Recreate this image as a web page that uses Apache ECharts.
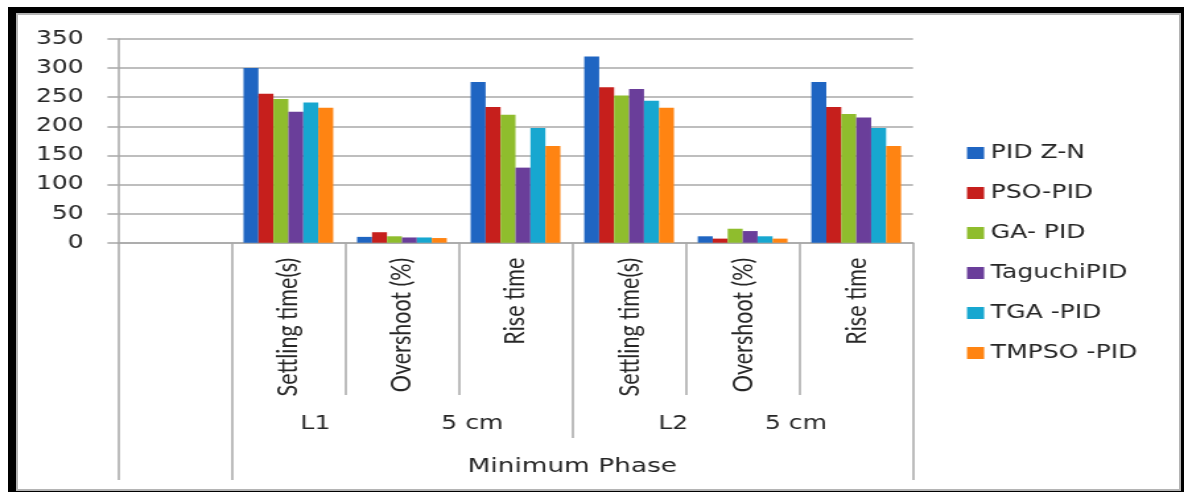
<!DOCTYPE html>
<html>
<head>
<meta charset="utf-8">
<script src="https://cdn.jsdelivr.net/npm/echarts@6/dist/echarts.min.js"></script>
<style>
  html, body { margin: 0; padding: 0; background: #fff; width: 1184px; height: 492px; overflow: hidden; }
  #frame { position: absolute; left: 8px; top: 7px; width: 1176px; height: 490px; background: #000; }
  #card { position: absolute; left: 16px; top: 13px; width: 1165px; height: 478px; box-sizing: border-box; background: #fff; border: 2px solid #b4b4b4; }
  #chart { position: absolute; left: 0; top: 0; width: 897px; height: 492px; transform: scaleX(1.32); transform-origin: 0 0; }
</style>
</head>
<body>
<div id="frame"></div>
<div id="card"></div>
<div id="chart"></div>
<script>
// Category levels (the first column is an empty slot)
const categories = ['', 'Settling time(s)', 'Overshoot (%)', 'Rise time', 'Settling time(s)', 'Overshoot (%)', 'Rise time'];
const groupL1 = ['L1', '5 cm'];
const groupL2 = ['L2', '5 cm'];
const phaseLabel = 'Minimum Phase';

// Series names and values
const seriesNames = ['PID Z-N', 'PSO-PID', 'GA- PID', 'TaguchiPID', 'TGA -PID', 'TMPSO -PID'];
const pidZN      = [null, 300, 10, 276, 320, 11, 276];
const psoPid     = [null, 256, 18, 233, 267,  7, 233];
const gaPid      = [null, 247, 11, 220, 253, 24, 221];
const taguchiPid = [null, 225,  9, 129, 264, 20, 215];
const tgaPid     = [null, 241,  9, 197, 244, 11, 197];
const tmpsoPid   = [null, 232,  8, 166, 232,  7, 166];

// Y-axis scale
const yMin = 0, yMax = 350, yStep = 50;

const colors = ['#1f65c2', '#c61f1c', '#8fbd2d', '#6a3e9a', '#17a7d0', '#ff8412'];

// Layout (chart is drawn in a narrower box and widened by S)
const S = 1.32;
const W = 897;
const plotLeft = 118 / S, plotRight = 913 / S;
const plotTop = 39, plotBottom = 242.7;
const bandW = (plotRight - plotLeft) / categories.length;
const grey = '#a8a8a8';
const txt = '#262626';

const chart = echarts.init(document.getElementById('chart'), null, { renderer: 'canvas', width: W, height: 492 });

const seriesData = [pidZN, psoPid, gaPid, taguchiPid, tgaPid, tmpsoPid];

const baseX = {
  type: 'category',
  data: categories,
  position: 'bottom',
  gridIndex: 0,
  axisLine: { show: false },
  splitLine: { show: false }
};

chart.setOption({
  animation: false,
  color: colors,
  grid: {
    left: plotLeft,
    right: W - plotRight,
    top: plotTop,
    bottom: 492 - plotBottom,
    containLabel: false
  },
  legend: {
    orient: 'vertical',
    left: 967 / S,
    top: 143,
    padding: 0,
    itemGap: 20,
    itemWidth: 13,
    itemHeight: 12,
    icon: 'rect',
    data: seriesNames,
    textStyle: { fontFamily: 'DejaVu Sans', fontSize: 19, color: txt, lineHeight: 20 }
  },
  xAxis: [
    Object.assign({}, baseX, {
      axisLine: { show: true, lineStyle: { color: grey, width: 1.5 } },
      axisTick: { show: true, interval: 0, length: 395 - plotBottom, lineStyle: { color: grey, width: 1.5 } },
      axisLabel: {
        interval: 0, rotate: 90, margin: 15,
        fontFamily: 'Lato', fontSize: 21.5, color: txt
      }
    }),
    Object.assign({}, baseX, {
      axisTick: {
        show: true, length: 438 - plotBottom,
        interval: (i) => i === 0 || i === 1 || i === 4,
        lineStyle: { color: grey, width: 1.5 }
      },
      axisLabel: {
        interval: (i) => i === 2 || i === 5,
        margin: 424 - plotBottom,
        verticalAlign: 'middle',
        formatter: (v, i) => i === 2 ? '{a|' + groupL1[0] + '}{g1| }{a|' + groupL1[1] + '}'
                          : i === 5 ? '{a|' + groupL2[0] + '}{g2| }{a|' + groupL2[1] + '}' : '',
        rich: {
          a: { fontFamily: 'DejaVu Sans', fontSize: 19, color: txt },
          g1: { width: 84 },
          g2: { width: 58 }
        }
      }
    }),
    Object.assign({}, baseX, {
      axisTick: {
        show: true, length: 480 - plotBottom,
        interval: (i) => i === 0 || i === 1,
        lineStyle: { color: grey, width: 1.5 }
      },
      axisLabel: {
        interval: (i) => i === 3,
        margin: 467 - plotBottom,
        verticalAlign: 'middle',
        padding: [0, 0, 0, bandW],
        formatter: (v, i) => i === 3 ? phaseLabel : '',
        fontFamily: 'DejaVu Sans', fontSize: 20, color: txt
      }
    })
  ],
  yAxis: {
    type: 'value',
    min: yMin, max: yMax, interval: yStep,
    axisLine: { show: true, lineStyle: { color: grey, width: 1.5 } },
    axisTick: { show: true, length: 8, lineStyle: { color: grey, width: 1.5 } },
    splitLine: { show: true, lineStyle: { color: grey, width: 1.5 } },
    axisLabel: { margin: 26, fontFamily: 'DejaVu Sans', fontSize: 19, color: txt }
  },
  series: seriesNames.map((name, k) => ({
    name: name,
    type: 'bar',
    xAxisIndex: 0,
    data: seriesData[k],
    barGap: '0%',
    barCategoryGap: '21%'
  }))
});
</script>
</body>
</html>
